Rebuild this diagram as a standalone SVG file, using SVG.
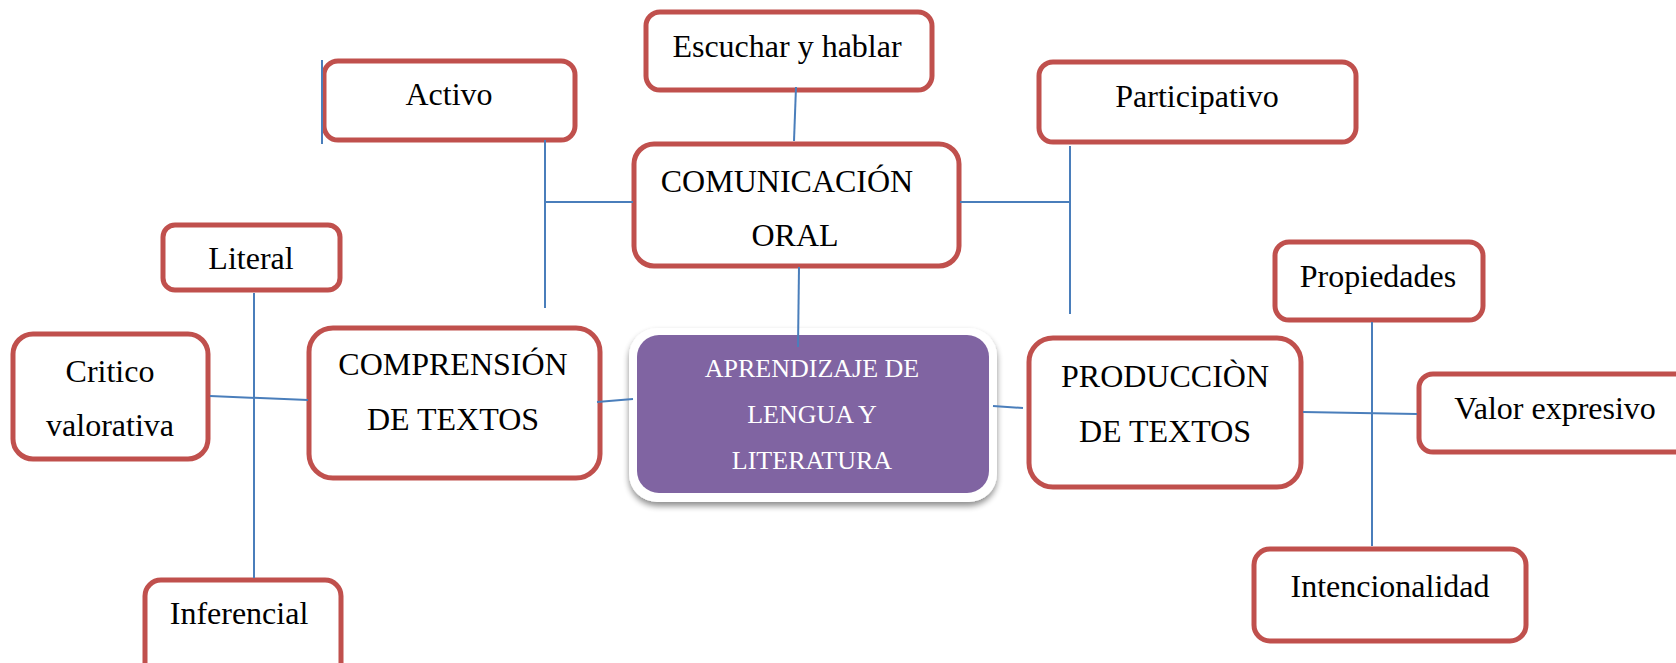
<svg xmlns="http://www.w3.org/2000/svg" width="1676" height="663" viewBox="0 0 1676 663">
<defs>
<filter id="sh" x="-10%" y="-10%" width="120%" height="130%">
<feGaussianBlur in="SourceAlpha" stdDeviation="3"/>
<feOffset dx="0" dy="4" result="b"/>
<feComponentTransfer><feFuncA type="linear" slope="0.45"/></feComponentTransfer>
<feMerge><feMergeNode/><feMergeNode in="SourceGraphic"/></feMerge>
</filter>
</defs>
<style>
.box{fill:#ffffff;stroke:#c0504d;stroke-width:5}
.t{font-family:"Liberation Serif","Times New Roman",serif;font-size:32px;fill:#000;text-anchor:middle}
.w{font-family:"Liberation Serif","Times New Roman",serif;font-size:26px;fill:#ffffff;text-anchor:middle}
.c{stroke:#4a7ebb;stroke-width:2;fill:none}
</style>
<rect width="1676" height="663" fill="#ffffff"/>
<g id="escuchar"><rect class="box" x="646" y="12" width="286" height="78" rx="14"/><text class="t" x="787" y="57">Escuchar y hablar</text></g>
<g id="activo"><rect class="box" x="324" y="61" width="251" height="79" rx="14"/><text class="t" x="449" y="105">Activo</text></g>
<g id="participativo"><rect class="box" x="1039" y="62" width="317" height="80" rx="14"/><text class="t" x="1197" y="107">Participativo</text></g>
<g id="comunicacion"><rect class="box" x="634" y="144" width="325" height="122" rx="20"/><text class="t" x="787" y="192">COMUNICACIÓN</text><text class="t" x="795" y="246">ORAL</text></g>
<g id="literal"><rect class="box" x="163" y="225" width="177" height="65" rx="12"/><text class="t" x="251" y="269">Literal</text></g>
<g id="propiedades"><rect class="box" x="1275" y="242" width="208" height="78" rx="14"/><text class="t" x="1378" y="287">Propiedades</text></g>
<g id="critico"><rect class="box" x="13" y="334" width="195" height="125" rx="20"/><text class="t" x="110" y="382">Critico</text><text class="t" x="110" y="436">valorativa</text></g>
<g id="comprension"><rect class="box" x="309" y="328" width="291" height="150" rx="24"/><text class="t" x="453" y="375">COMPRENSIÓN</text><text class="t" x="453" y="430">DE TEXTOS</text></g>
<g id="aprendizaje"><rect x="629" y="328" width="368" height="174" rx="28" fill="#ffffff" filter="url(#sh)"/><rect x="637" y="335" width="352" height="158" rx="22" fill="#8064a2"/><text class="w" x="812" y="377">APRENDIZAJE DE</text><text class="w" x="812" y="423">LENGUA Y</text><text class="w" x="812" y="469">LITERATURA</text></g>
<g id="produccion"><rect class="box" x="1029" y="338" width="272" height="149" rx="24"/><text class="t" x="1165" y="387">PRODUCCIÒN</text><text class="t" x="1165" y="442">DE TEXTOS</text></g>
<g id="valor"><rect class="box" x="1419" y="374" width="270" height="78" rx="14"/><text class="t" x="1555" y="419">Valor expresivo</text></g>
<g id="inferencial"><rect class="box" x="145" y="580" width="196" height="100" rx="16"/><text class="t" x="239" y="624">Inferencial</text></g>
<g id="intencionalidad"><rect class="box" x="1254" y="549" width="272" height="92" rx="16"/><text class="t" x="1390" y="597">Intencionalidad</text></g>
<g id="connectors">
<line class="c" x1="796" y1="87" x2="794" y2="141"/>
<line class="c" x1="545" y1="140" x2="545" y2="308"/>
<line class="c" x1="545" y1="202" x2="633" y2="202"/>
<line class="c" x1="322" y1="60" x2="322" y2="144"/>
<line class="c" x1="960" y1="202" x2="1070" y2="202"/>
<line class="c" x1="1070" y1="146" x2="1070" y2="314"/>
<line class="c" x1="799" y1="267" x2="798" y2="347"/>
<line class="c" x1="597" y1="402" x2="633" y2="399"/>
<line class="c" x1="993" y1="406" x2="1023" y2="408"/>
<line class="c" x1="210" y1="396" x2="308" y2="400"/>
<line class="c" x1="254" y1="293" x2="254" y2="578"/>
<line class="c" x1="1303" y1="412" x2="1417" y2="414"/>
<line class="c" x1="1372" y1="322" x2="1372" y2="546"/>
</g>
</svg>
